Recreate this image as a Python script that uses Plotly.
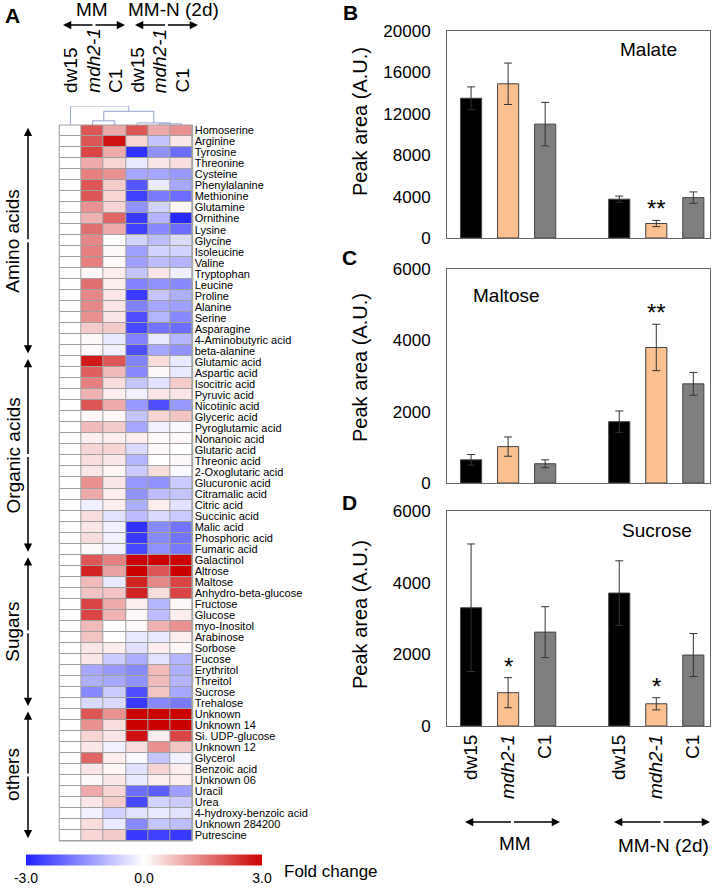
import plotly.graph_objects as go

W, H = 714, 894
FONT = "Liberation Sans, Arial, sans-serif"


def px(x):
    return x / W


def py(y):
    return 1 - y / H


# ---------------- Heatmap data (log2 fold change vs dw15 in MM) ----------------
metabolites = [
    "Homoserine", "Arginine", "Tyrosine", "Threonine", "Cysteine", "Phenylalanine",
    "Methionine", "Glutamine", "Ornithine", "Lysine", "Glycine", "Isoleucine", "Valine",
    "Tryptophan", "Leucine", "Proline", "Alanine", "Serine", "Asparagine",
    "4-Aminobutyric acid", "beta-alanine",
    "Glutamic acid", "Aspartic acid", "Isocitric acid", "Pyruvic acid", "Nicotinic acid",
    "Glyceric acid", "Pyroglutamic acid", "Nonanoic acid", "Glutaric acid", "Threonic acid",
    "2-Oxoglutaric acid", "Glucuronic acid", "Citramalic acid", "Citric acid",
    "Succinic acid", "Malic acid", "Phosphoric acid", "Fumaric acid",
    "Galactinol", "Altrose", "Maltose", "Anhydro-beta-glucose", "Fructose", "Glucose",
    "myo-Inositol", "Arabinose", "Sorbose", "Fucose", "Erythritol", "Threitol", "Sucrose",
    "Trehalose",
    "Unknown", "Unknown 14", "Si. UDP-glucose", "Unknown 12", "Glycerol", "Benzoic acid",
    "Unknown 06", "Uracil", "Urea", "4-hydroxy-benzoic acid", "Unknown 284200", "Putrescine",
]

group_names = ["Amino acids", "Organic acids", "Sugars", "others"]
group_sizes = [21, 18, 14, 12]

column_labels = ["dw15", "<i>mdh2-1</i>", "C1", "dw15", "<i>mdh2-1</i>", "C1"]

mm_dw15 = [0.0, 0.0, 0.0, 0.0, 0.0, 0.0, 0.0, 0.0, 0.0, 0.0, 0.0, 0.0, 0.0, 0.0, 0.0, 0.0, 0.0,
           0.0, 0.0, 0.0, 0.0,
           0.0, 0.0, 0.0, 0.0, 0.0, 0.0, 0.0, 0.0, 0.0, 0.0, 0.0, 0.0, 0.0, 0.0, 0.0, 0.0, 0.0, 0.0,
           0.0, 0.0, 0.0, 0.0, 0.0, 0.0, 0.0, 0.0, 0.0, 0.0, 0.0, 0.0, 0.0, 0.0,
           0.0, 0.0, 0.0, 0.0, 0.0, 0.0, 0.0, 0.0, 0.0, 0.0, 0.0, 0.0]

mm_mdh2 = [2.0, 2.0, 2.2, 1.0, 1.5, 2.0, 2.0, 1.3, 0.9, 1.7, 1.4, 1.5, 1.5, 0.1, 1.7, 1.4, 1.4,
           1.3, 0.6, 0.1, 0.1,
           2.7, 1.9, 1.5, 0.9, 2.0, 0.1, 0.8, 0.2, 0.5, 0.4, 0.3, 1.3, 1.0, -0.2, 0.4, 0.3, 0.4, 0.1,
           2.0, 2.6, 0.8, 0.7, 2.2, 2.2, 0.8, 0.7, 0.3, 0.3, -1.2, -1.1, -1.6, -0.5,
           2.0, 1.3, 0.5, 0.3, 1.8, 0.3, 0.1, 1.0, 0.3, -0.2, 0.4, 0.5]

mm_c1 = [1.0, 2.8, 1.0, 0.5, 1.3, 0.6, 0.5, 0.5, 1.8, 1.0, 0.0, 0.1, 0.1, 0.2, 0.2, 0.3, 0.3,
         0.3, 0.6, -0.3, -0.2,
         2.0, 0.8, 0.4, 0.2, 1.0, 0.1, 0.6, 0.2, 0.5, 0.3, 0.1, 0.3, 0.2, 0.2, -0.4, -0.2, -0.2, -0.2,
         1.5, 1.1, -0.3, 0.7, 1.0, 0.9, 0.0, 0.0, 0.2, -0.7, -1.4, -1.2, -0.7, -0.5,
         1.3, 0.4, 0.3, -0.2, 0.2, 0.1, 0.3, 0.5, 0.6, -0.6, -0.3, 0.6]

mmn_dw15 = [2.0, 0.5, -2.8, -0.3, -1.2, -2.3, -2.6, -1.5, -2.7, -2.6, -0.6, -1.3, -1.3, -0.8, -1.7,
            -2.7, -1.7, -2.4, -2.5, -1.7, -2.4,
            -1.7, -1.6, -0.8, -0.2, -1.4, -0.8, -1.2, 0.2, -0.5, -1.0, -0.7, -1.4, -1.5, -1.1, -0.9,
            -2.8, -2.7, -2.5,
            3.0, 3.0, 2.6, 2.6, 0.2, 0.1, 0.1, -0.3, -0.4, -1.1, -1.6, -1.5, -2.4, -2.7,
            3.0, 3.0, 2.8, 0.4, -0.1, -0.4, -0.3, -2.0, -2.5, -0.4, -1.6, -2.7]

mmn_mdh2 = [1.0, -0.8, -1.5, 0.3, -1.2, -0.3, -1.8, -0.6, -1.0, -1.6, -0.9, -0.6, -0.9, 0.3, -1.5,
            -0.8, -1.2, -1.0, -1.9, -0.3, -1.2,
            0.4, 0.1, -0.4, 0.3, -2.4, 0.5, -0.2, 0.1, 0.1, 0.0, 0.4, -1.5, -0.9, 0.2, -0.5, -1.6,
            -1.6, -1.5,
            3.0, 2.0, 1.4, 0.4, -1.0, -0.9, 0.9, -0.3, 0.2, -0.4, 0.8, 0.8, 0.7, -1.6,
            3.0, 3.0, 0.2, 1.3, -0.8, 0.5, 0.2, -2.2, -0.6, -0.3, -0.8, -2.6]

mmn_c1 = [1.3, 0.3, -2.0, 0.4, -1.4, -1.2, -2.0, 0.1, -2.9, -2.0, -0.5, -0.6, -1.0, -0.2, -1.6,
          -1.1, -1.3, -1.6, -2.0, -1.0, -1.5,
          -0.3, -0.3, 0.6, 0.3, -1.4, 0.7, -0.1, 0.1, 0.0, 0.1, -0.1, -0.7, -0.8, -0.4, -0.7, -1.9,
          -1.9, -1.8,
          3.0, 3.0, 2.2, 2.2, 0.1, 0.2, 1.3, 0.2, 0.1, -1.0, -1.1, -1.0, -1.2, -1.8,
          3.0, 3.0, 2.2, 0.7, -0.2, 0.2, 0.2, -1.3, -0.7, -0.4, -0.9, -2.7]

# column dendrogram merges: (child a, child b, height); ints = leaves, "nK" = K-th merge
dendro_merges = [(4, 5, 0.06), (3, "n0", 0.11), (1, 2, 0.22), ("n2", "n1", 0.72), (0, "n3", 1.0)]

# ---------------- Bar chart data ----------------
bar_genotypes = ["dw15", "<i>mdh2-1</i>", "C1", "dw15", "<i>mdh2-1</i>", "C1"]
bar_conditions = ["MM", "MM-N (2d)"]

malate_mean = [13500, 14900, 11000, 3750, 1400, 3900]
malate_err = [1100, 2000, 2100, 300, 300, 550]
malate_sig = ["", "", "", "", "**", ""]

maltose_mean = [650, 1020, 540, 1720, 3800, 2780]
maltose_err = [150, 270, 110, 300, 650, 320]
maltose_sig = ["", "", "", "", "**", ""]

sucrose_mean = [3300, 930, 2620, 3710, 620, 1980]
sucrose_err = [1780, 420, 710, 900, 170, 600]
sucrose_sig = ["", "*", "", "", "*", ""]

# ---------------- Figure ----------------
fig = go.Figure()

z = [list(r) for r in zip(mm_dw15, mm_mdh2, mm_c1, mmn_dw15, mmn_mdh2, mmn_c1)]
nrows = len(metabolites)

fig.add_trace(go.Heatmap(
    z=z, x=list(range(6)), y=list(range(nrows)),
    zmin=-3, zmax=3,
    colorscale=[[0, "#2222ff"], [0.5, "#ffffff"], [1, "#cc0000"]],
    xgap=1, ygap=1, xaxis="x", yaxis="y",
    colorbar=dict(
        orientation="h", x=px(26), xanchor="left", y=py(868), yanchor="middle",
        xpad=0, ypad=0,
        len=236, lenmode="pixels", thickness=11, outlinewidth=0,
        tickvals=[-3, 0, 3], ticktext=["-3.0", "0.0", "3.0"], ticks="",
        tickfont=dict(size=14, family=FONT, color="black"),
    ),
))

# dendrogram lines
node_x = {i: i for i in range(6)}
node_h = {i: 0.0 for i in range(6)}
dx, dy = [], []
for k, (a, b, h) in enumerate(dendro_merges):
    xa, xb = node_x[a], node_x[b]
    ha, hb = node_h[a], node_h[b]
    dx += [xa, xa, xb, xb, None]
    dy += [ha, h, h, hb, None]
    node_x["n%d" % k] = (xa + xb) / 2
    node_h["n%d" % k] = h
fig.add_trace(go.Scatter(x=dx, y=dy, mode="lines", line=dict(color="#97a3d3", width=1),
                         xaxis="x5", yaxis="y5", showlegend=False, hoverinfo="skip"))

# bars
bar_colors = ["#000000", "#FAC090", "#7F7F7F", "#000000", "#FAC090", "#7F7F7F"]
bar_pos = [i + i // 3 for i in range(6)]
panels = [
    ("x2", "y2", malate_mean, malate_err, malate_sig),
    ("x3", "y3", maltose_mean, maltose_err, maltose_sig),
    ("x4", "y4", sucrose_mean, sucrose_err, sucrose_sig),
]
annotations = []
for xa, ya, mean, err, sig in panels:
    fig.add_trace(go.Bar(
        x=bar_pos, y=mean, width=0.57, xaxis=xa, yaxis=ya, showlegend=False,
        marker=dict(color=bar_colors, line=dict(color="#444444", width=1)),
        error_y=dict(type="data", array=err, color="#333333", thickness=1, width=4),
    ))
    for p, m, e, s in zip(bar_pos, mean, err, sig):
        if s:
            annotations.append(dict(x=p, y=m + e, xref=xa, yref=ya, text=s, showarrow=False,
                                    yanchor="bottom", yshift=-4,
                                    font=dict(size=24, family=FONT, color="black")))

bar_x_dom = [px(447), px(710)]
axis_common = dict(showline=True, mirror=True, linecolor="#666666", linewidth=1,
                   showgrid=False, zeroline=False, ticks="")


def yax(dom, top, step):
    return dict(domain=dom, range=[0, top], tickvals=list(range(0, top + 1, step)),
                tickformat="d",
                tickfont=dict(size=17, family=FONT, color="black"), ticklabelstandoff=12,
                **axis_common)


layout = dict(
    width=W, height=H, margin=dict(l=0, r=0, t=0, b=0, pad=0, autoexpand=False),
    paper_bgcolor="white", plot_bgcolor="white", showlegend=False,
    font=dict(family=FONT, color="black"),
    xaxis=dict(domain=[px(59.3), px(192.7)], range=[-0.5, 5.5], visible=False, fixedrange=True),
    yaxis=dict(domain=[py(841), py(125)], range=[nrows - 0.5, -0.5], side="right",
               tickvals=list(range(nrows)), ticktext=metabolites, ticks="",
               tickfont=dict(size=11, family=FONT, color="black"),
               showgrid=False, zeroline=False, showline=False, ticklabelstandoff=1),
    xaxis5=dict(domain=[px(59.3), px(192.7)], range=[-0.5, 5.5], visible=False, anchor="y5"),
    yaxis5=dict(domain=[py(125), py(106)], range=[0, 1.0], visible=False, anchor="x5"),
    xaxis2=dict(domain=bar_x_dom, range=[-0.65, 6.45], anchor="y2", showticklabels=False,
                **axis_common),
    yaxis2=yax([py(238), py(31)], 20000, 4000) | dict(anchor="x2"),
    xaxis3=dict(domain=bar_x_dom, range=[-0.65, 6.45], anchor="y3", showticklabels=False,
                **axis_common),
    yaxis3=yax([py(483), py(269)], 6000, 2000) | dict(anchor="x3"),
    xaxis4=dict(domain=bar_x_dom, range=[-0.65, 6.45], anchor="y4", tickvals=bar_pos,
                ticktext=bar_genotypes, tickangle=-90,
                tickfont=dict(size=19, family=FONT, color="black"), **axis_common),
    yaxis4=yax([py(726), py(511)], 6000, 2000) | dict(anchor="x4"),
)
fig.update_layout(**layout)

# heatmap grid background and border
fig.add_shape(type="rect", xref="x domain", yref="y domain", x0=0, x1=1, y0=0, y1=1,
              fillcolor="#a0a0a0", line=dict(width=0), layer="below")
fig.add_shape(type="rect", xref="x domain", yref="y domain", x0=0, x1=1, y0=0, y1=1,
              fillcolor="rgba(0,0,0,0)", line=dict(color="#a0a0a0", width=1), layer="above")


def txt(x, y, s, size=19, **kw):
    d = dict(x=px(x), y=py(y), xref="paper", yref="paper", text=s, showarrow=False,
             xanchor="center", yanchor="middle",
             font=dict(size=size, family=FONT, color="black"))
    d.update(kw)
    annotations.append(d)


def harrow(x0, x1, y):
    xm = (x0 + x1) / 2
    for xe in (x0, x1):
        annotations.append(dict(x=px(xe), y=py(y), xref="paper", yref="paper", text="",
                                showarrow=True, ax=xm - xe, ay=0, axref="pixel", ayref="pixel",
                                arrowhead=2, arrowsize=1.1, arrowwidth=1.5, arrowcolor="black"))


# panel letters
txt(12, 15, "<b>A</b>", 21)
txt(350, 13, "<b>B</b>", 21)
txt(349, 257, "<b>C</b>", 21)
txt(349, 503, "<b>D</b>", 21)

# heatmap header
txt(92, 10, "MM", 19)
txt(173, 10, "MM-N (2d)", 19)
harrow(63, 125, 25)
harrow(135, 198, 25)
for i, lab in enumerate(column_labels):
    annotations.append(dict(x=i, y=py(95), xref="x", yref="paper", text=lab, textangle=-90,
                            showarrow=False, yanchor="bottom", xanchor="center",
                            font=dict(size=19, family=FONT, color="black")))

# group arrows on the left
start = 0
for name, n in zip(group_names, group_sizes):
    top = start - 0.5 + 0.25
    bot = start + n - 0.5 - 0.25
    mid = (top + bot) / 2
    for ye in (top, bot):
        annotations.append(dict(x=px(28), y=ye, xref="paper", yref="y", text="",
                                showarrow=True, ax=0, ay=mid, axref="pixel", ayref="y",
                                arrowhead=2, arrowsize=1.1, arrowwidth=1.5, arrowcolor="black"))
    annotations.append(dict(x=px(13), y=mid, xref="paper", yref="y", text=name,
                            textangle=-90, showarrow=False, xanchor="center", yanchor="middle",
                            font=dict(size=19, family=FONT, color="black")))
    start += n

# colorbar caption
txt(282, 871, "Fold change", 17, xanchor="left")

# bar panel texts
for yc in (122, 368, 615):
    txt(360, yc, "Peak area (A.U.)", 20, textangle=-90)
txt(648, 50, "Malate", 19)
txt(506, 295, "Maltose", 19)
txt(657, 530, "Sucrose", 19)

harrow(465, 560, 822)
harrow(614, 710, 822)
txt(515, 843, bar_conditions[0], 19)
txt(663, 845, bar_conditions[1], 19)

fig.update_layout(annotations=annotations)
fig.write_html("out.html", config={"displayModeBar": False},
               post_script="document.body.style.margin='0px';document.body.style.overflow='hidden';")
